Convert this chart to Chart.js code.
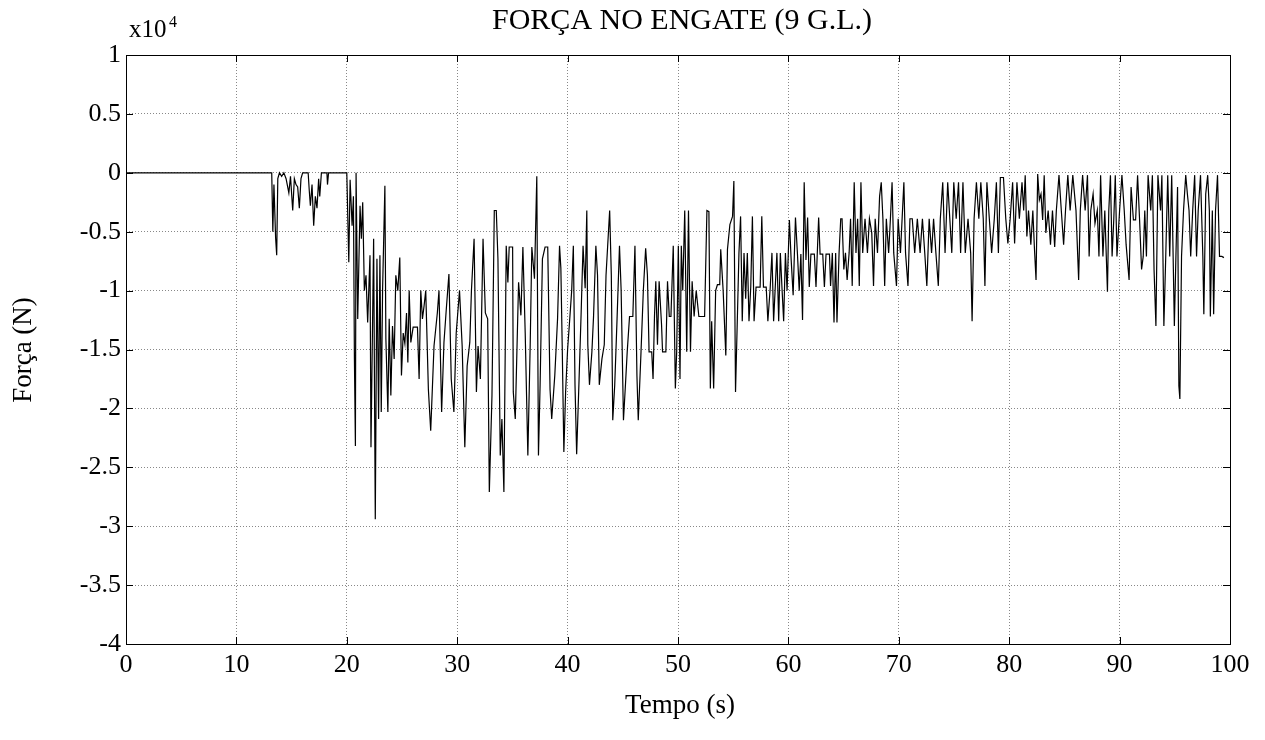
<!DOCTYPE html>
<html>
<head>
<meta charset="utf-8">
<title>Força no engate</title>
<script src="https://cdn.jsdelivr.net/npm/chart.js@4.4.1/dist/chart.umd.min.js"></script>
<style>
  body { margin: 0; background: #fff; }
  #caixa { width: 1265px; height: 740px; }
</style>
</head>
<body>
<div id="caixa"><canvas id="grafico"></canvas></div>
<script>
// tempo (s)
const tempo = [
  0, 13.2, 13.3, 13.4, 13.55, 13.65, 13.75, 13.9, 14.1, 14.3,
  14.5, 14.75, 14.9, 15.1, 15.25, 15.4, 15.55, 15.7, 15.85, 16.0,
  16.5, 16.6, 16.7, 16.85, 17.0, 17.15, 17.3, 17.45, 17.55, 17.7,
  18.2, 18.25, 18.35, 20.0,
  20.18, 20.30, 20.48, 20.60, 20.69, 20.78, 20.84, 20.99, 21.20, 21.32,
  21.44, 21.59, 21.74, 21.89, 22.10, 22.19, 22.43, 22.58, 22.73, 22.88,
  23.00, 23.12, 23.24, 23.45, 23.54, 23.72, 23.84, 23.99, 24.14, 24.29,
  24.44, 24.62, 24.80, 24.95, 25.11, 25.26, 25.41, 25.53, 25.65, 25.80,
  26.01, 26.40, 26.55, 26.70, 26.85, 27.00, 27.15, 27.39, 27.60, 27.90,
  28.20, 28.35, 28.59, 28.80, 29.01, 29.25, 29.46, 29.70, 29.91, 30.21,
  30.45, 30.69, 30.90, 31.14, 31.29, 31.53, 31.74, 31.89, 32.10, 32.34,
  32.55, 32.76, 32.91, 33.15, 33.36, 33.54, 33.69, 33.90, 34.05, 34.23,
  34.44, 34.59, 34.71, 35.02, 35.08, 35.26, 35.56, 35.77, 35.95, 36.16,
  36.40, 36.61, 36.76, 37.00, 37.21, 37.36, 37.51, 37.72, 37.96, 38.20,
  38.41, 38.56,
  38.84,
  39.09, 39.27, 39.39, 39.51, 39.66, 39.82, 40.00, 40.21, 40.37, 40.52,
  40.67, 40.82, 41.04, 41.22, 41.40, 41.59, 41.74, 41.83, 41.98, 42.20,
  42.35, 42.56, 42.71, 42.87, 43.11, 43.32, 43.48, 43.63, 43.81, 43.96,
  44.09, 44.27, 44.48, 44.70, 44.85, 45.06, 45.24, 45.40, 45.61, 45.91,
  46.10, 46.28, 46.40, 46.65, 46.86, 47.07, 47.23, 47.38, 47.62, 47.74,
  47.87, 47.99, 48.14, 48.29, 48.51, 48.60, 48.90, 49.05, 49.21, 49.36,
  49.57, 49.76, 49.88, 50.03, 50.18, 50.30, 50.43, 50.61, 50.79, 50.95,
  51.13, 51.28, 51.46, 51.65, 51.89, 52.41, 52.62, 52.80, 52.93, 53.05,
  53.23, 53.41, 53.57, 53.78, 53.87, 54.09, 54.33, 54.48, 54.70, 54.94,
  55.06, 55.21, 55.37, 55.52, 55.67, 55.82, 55.98, 56.13, 56.28, 56.43,
  56.59, 56.74, 56.89, 57.07, 57.44, 57.59, 57.74, 57.99, 58.14, 58.35,
  58.51, 58.66, 58.81, 58.96, 59.12, 59.27, 59.42, 59.57, 59.73, 59.88,
  60.09, 60.24, 60.43, 60.64,
  60.67, 60.82, 60.98, 61.13, 61.28, 61.43, 61.59, 61.74, 61.89, 62.04,
  62.35, 62.50, 62.74, 62.87, 63.11, 63.26, 63.41, 63.72,
  63.82, 63.98, 64.13, 64.28, 64.40, 64.59, 64.74, 64.86, 65.02, 65.17,
  65.32, 65.50, 65.63, 65.78, 65.96, 66.12, 66.27, 66.42, 66.57, 66.73,
  66.94, 67.16, 67.34, 67.55, 67.71, 67.86, 68.07, 68.26, 68.41, 68.56,
  68.72, 68.87, 69.08, 69.24, 69.39, 69.54, 69.79, 69.94, 70.15, 70.46,
  70.61, 70.83, 71.01, 71.22, 71.44, 71.68, 71.93, 72.14, 72.35, 72.54,
  72.75, 72.97, 73.15, 73.36, 73.58, 73.76, 73.98, 74.19, 74.43, 74.62,
  74.80, 74.98, 75.20, 75.41, 75.60, 75.81, 76.02, 76.27, 76.51, 76.64,
  76.82, 77.03, 77.25, 77.43, 77.65, 77.80, 77.98, 78.20, 78.41, 78.65,
  78.84, 79.02, 79.20, 79.48, 79.69, 79.88, 80.09, 80.31, 80.49, 80.70,
  80.92, 81.16,
  81.31, 81.45, 81.60, 81.75, 81.96, 82.14, 82.28, 82.43, 82.58, 82.73,
  82.88, 83.03, 83.17, 83.32, 83.53, 83.74, 83.92, 84.12, 84.27, 84.51,
  84.72, 84.93, 85.10, 85.31, 85.52, 85.76, 86.05, 86.29, 86.44, 86.65,
  86.88, 87.09, 87.24, 87.39, 87.60, 87.77, 87.98, 88.13, 88.28, 88.49,
  88.66, 88.90, 89.02, 89.17, 89.32, 89.47, 89.61, 89.76, 90.00, 90.21,
  90.42, 90.59, 90.86, 91.04, 91.25, 91.45, 91.63, 91.81, 91.99, 92.14,
  92.28, 92.43, 92.58, 92.82, 92.97, 93.12, 93.29, 93.47, 93.71, 93.83,
  94.01, 94.18, 94.36, 94.54, 94.72, 94.96, 95.10, 95.25, 95.37, 95.46,
  95.61, 95.79, 95.99, 96.14, 96.29, 96.44, 96.62, 96.80, 96.97, 97.12,
  97.33, 97.54, 97.63, 97.80, 97.98, 98.13, 98.22, 98.40, 98.52, 98.69,
  98.87, 99.05, 99.26, 99.45
];

// força no engate, em unidades de 10^4 N
const forca = [
  0, 0, -0.5, -0.1, -0.55, -0.7, -0.05, 0, -0.03, 0,
  -0.05, -0.17, -0.03, -0.32, -0.05, -0.1, -0.12, -0.3, -0.05, 0,
  0, -0.15, -0.28, -0.1, -0.45, -0.2, -0.3, -0.05, -0.2, 0,
  0, -0.1, 0, 0,
  -0.76, -0.06, -0.45, -0.2, -1.58, -2.32, 0, -1.24, -0.28, -0.56,
  -0.25, -1.0, -0.87, -1.27, -0.7, -2.33, -0.56, -2.94, -0.73, -2.09,
  -0.7, -2.03, -1.0, -0.11, -1.41, -2.03, -1.24, -1.89, -1.3, -1.58,
  -0.87, -1.0, -0.72, -1.72, -1.36, -1.45, -1.19, -1.61, -1.0, -1.44,
  -1.31, -1.31, -1.75, -1.0, -1.24, -1.13, -1.0, -1.84, -2.19, -1.47,
  -1.19, -1.0, -2.03, -1.44, -1.16, -0.86, -1.75, -2.03, -1.36, -1.0,
  -1.47, -2.33, -1.64, -1.44, -1.0, -0.56, -1.86, -1.47, -1.75, -0.56,
  -1.19, -1.24, -2.71, -1.89, -0.32, -0.32, -0.73, -2.4, -2.09, -2.71,
  -0.62, -0.93, -0.63, -0.63, -1.86, -2.09, -0.93, -1.21, -0.63, -1.36,
  -2.4, -1.47, -0.63, -0.9, -0.03, -2.4, -1.8, -0.73, -0.63, -0.63,
  -1.84, -2.09,
  -1.72,
  -1.24, -0.62, -0.81, -1.46, -2.37, -1.86, -1.5, -1.22, -1.0, -0.62,
  -1.8, -2.39, -1.75, -1.21, -0.62, -0.98, -0.32, -1.46, -1.8, -1.52,
  -1.22, -0.62, -0.87, -1.8, -1.58, -1.46, -0.87, -0.62, -0.32, -0.87,
  -2.1, -1.8, -1.24, -0.62, -1.0, -2.1, -1.8, -1.52, -1.22, -1.22,
  -0.62, -1.72, -2.1, -1.52, -1.0, -0.64, -0.87, -1.52, -1.52, -1.75,
  -1.22, -0.92, -1.46, -0.92, -1.29, -1.52, -1.52, -0.92, -1.22, -1.22,
  -0.62, -1.83, -1.52, -0.62, -1.75, -0.62, -1.0, -0.32, -1.52, -0.32,
  -1.52, -0.92, -1.22, -1.0, -1.22, -1.22, -0.32, -0.33, -1.83, -1.26,
  -1.83, -1.0, -0.95, -0.95, -0.65, -1.0, -1.55, -0.65, -0.44, -0.37,
  -0.07, -1.86, -1.26, -0.68, -0.37, -1.26, -0.68, -1.07, -0.68, -1.26,
  -0.97, -0.37, -1.26, -0.97, -0.97, -0.37, -0.97, -0.97, -1.26, -0.98,
  -0.68, -1.26, -0.97, -0.68, -1.26, -0.68, -0.98, -1.26, -0.68, -1.0,
  -0.4, -0.72, -1.04, -0.38,
  -0.38, -0.69, -1.0, -0.69, -1.25, -0.08, -0.74, -0.38, -0.97, -0.69,
  -0.69, -0.97, -0.38, -0.69, -0.69, -0.97, -0.69, -0.69,
  -0.96, -0.68, -1.27, -0.68, -1.27, -0.68, -0.39, -0.39, -0.82, -0.68,
  -0.91, -0.68, -0.39, -0.96, -0.08, -0.68, -0.39, -0.96, -0.08, -0.68,
  -0.39, -0.68, -0.39, -0.51, -0.96, -0.39, -0.68, -0.2, -0.08, -0.39,
  -0.96, -0.39, -0.68, -0.39, -0.08, -0.68, -0.96, -0.39, -0.68, -0.08,
  -0.68, -0.96, -0.39, -0.39, -0.68, -0.39, -0.68, -0.39, -0.68, -0.96,
  -0.39, -0.68, -0.39, -0.68, -0.96, -0.39, -0.08, -0.68, -0.08, -0.39,
  -0.68, -0.08, -0.39, -0.08, -0.68, -0.08, -0.68, -0.39, -0.68, -1.26,
  -0.39, -0.08, -0.39, -0.08, -0.39, -0.96, -0.08, -0.39, -0.68, -0.39,
  -0.08, -0.68, -0.04, -0.04, -0.39, -0.6, -0.39, -0.08, -0.6, -0.08,
  -0.39, -0.08,
  -0.32, -0.02, -0.54, -0.32, -0.61, -0.32, -0.63, -0.91, -0.01, -0.23,
  -0.18, -0.4, -0.02, -0.51, -0.32, -0.61, -0.32, -0.63, -0.32, -0.02,
  -0.32, -0.61, -0.32, -0.02, -0.32, -0.02, -0.32, -0.91, -0.32, -0.02,
  -0.32, -0.02, -0.71, -0.32, -0.18, -0.43, -0.32, -0.71, -0.02, -0.71,
  -0.32, -1.01, -0.32, -0.02, -0.71, -0.4, -0.02, -0.71, -0.32, -0.02,
  -0.32, -0.61, -0.91, -0.12, -0.4, -0.4, -0.02, -0.4, -0.82, -0.71,
  -0.32, -0.71, -0.02, -0.32, -0.02, -0.82, -1.3, -0.02, -0.32, -0.02,
  -1.3, -0.71, -0.02, -0.71, -0.02, -1.3, -0.71, -0.12, -1.81, -1.92,
  -0.71, -0.32, -0.02, -0.18, -0.32, -0.71, -0.32, -0.02, -0.71, -0.32,
  -0.02, -0.71, -1.2, -0.18, -0.02, -0.32, -1.22, -0.32, -1.2, -0.32,
  -0.02, -0.71, -0.71, -0.72
];

// eixos
const limitesX = [0, 100];
const limitesY = [-4, 1];
const passoX = 10;
const passoY = 0.5;

const titulo = 'FORÇA NO ENGATE (9 G.L.)';
const rotuloX = 'Tempo (s)';
const rotuloY = 'Força (N)';

if (tempo.length !== forca.length) {
    console.warn('tamanhos diferentes', tempo.length, forca.length);
}

const pontos = tempo.map((t, i) => ({ x: t, y: forca[i] }));

const serif = '"Liberation Serif", "Times New Roman", serif';

// moldura, marcas internas e textos (estilo MATLAB)
const moldura = {
    id: 'moldura',
    afterDraw(chart) {
        const { ctx, chartArea: a, scales } = chart;
        ctx.save();
        ctx.strokeStyle = '#000';
        ctx.lineWidth = 1;
        ctx.strokeRect(Math.round(a.left) + 0.5, Math.round(a.top) + 0.5,
            Math.round(a.width), Math.round(a.height));

        const marca = 7;
        ctx.beginPath();
        scales.x.ticks.forEach(t => {
            const px = Math.round(scales.x.getPixelForValue(t.value)) + 0.5;
            ctx.moveTo(px, a.bottom); ctx.lineTo(px, a.bottom - marca);
            ctx.moveTo(px, a.top); ctx.lineTo(px, a.top + marca);
        });
        scales.y.ticks.forEach(t => {
            const py = Math.round(scales.y.getPixelForValue(t.value)) + 0.5;
            ctx.moveTo(a.left, py); ctx.lineTo(a.left + marca, py);
            ctx.moveTo(a.right, py); ctx.lineTo(a.right - marca, py);
        });
        ctx.stroke();

        ctx.fillStyle = '#000';
        ctx.textBaseline = 'alphabetic';

        ctx.textAlign = 'center';
        ctx.font = '30px ' + serif;
        ctx.fillText(titulo, 682, 29);

        ctx.font = '27px ' + serif;
        ctx.fillText(rotuloX, 680, 713);

        ctx.save();
        ctx.translate(31, 350);
        ctx.rotate(-Math.PI / 2);
        ctx.fillText(rotuloY, 0, 0);
        ctx.restore();

        ctx.textAlign = 'left';
        ctx.font = '25px ' + serif;
        ctx.fillText('x10', 129, 37);
        ctx.font = '16px ' + serif;
        ctx.fillText('4', 169, 27);

        ctx.restore();
    }
};

const ctx = document.getElementById('grafico').getContext('2d');
new Chart(ctx, {
    type: 'line',
    data: {
        datasets: [{
            data: pontos,
            borderColor: '#000',
            borderWidth: 1.2,
            pointRadius: 0,
            tension: 0,
            fill: false,
        }],
    },
    options: {
        responsive: true,
        maintainAspectRatio: false,
        animation: false,
        layout: { padding: { top: 55, right: 35, left: 0, bottom: 0 } },
        plugins: {
            legend: { display: false },
            tooltip: { enabled: false },
        },
        scales: {
            x: {
                type: 'linear',
                min: limitesX[0],
                max: limitesX[1],
                afterFit: s => { s.height = 96; },
                ticks: {
                    stepSize: passoX,
                    padding: 6,
                    color: '#000',
                    font: { family: serif, size: 26 },
                    maxRotation: 0,
                },
                grid: { color: '#888', drawTicks: false },
                border: { display: false, dash: [1, 2] },
            },
            y: {
                type: 'linear',
                min: limitesY[0],
                max: limitesY[1],
                afterFit: s => { s.width = 126; },
                ticks: {
                    stepSize: passoY,
                    padding: 5,
                    color: '#000',
                    font: { family: serif, size: 26 },
                    callback: v => String(+v.toFixed(1)),
                },
                grid: { color: '#888', drawTicks: false },
                border: { display: false, dash: [1, 2] },
            },
        },
    },
    plugins: [moldura],
});
</script>
</body>
</html>
